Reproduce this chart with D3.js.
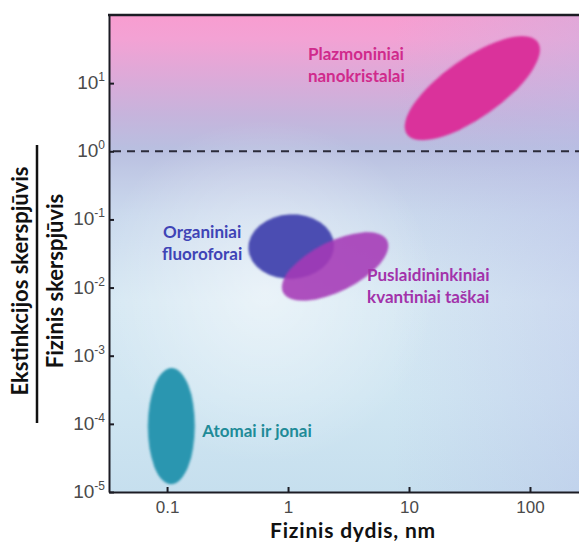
<!DOCTYPE html>
<html>
<head>
<meta charset="utf-8">
<script src="https://cdn.jsdelivr.net/npm/d3@7"></script>
<style>
  html, body { margin: 0; padding: 0; background: #fff; }
  svg { display: block; }
</style>
</head>
<body>
<svg id="chart" width="579" height="542"></svg>
<script>
// Duomenys (log skalės)
const xTickValues = [0.1, 1, 10, 100];
const yExponents = [1, 0, -1, -2, -3, -4, -5];
const thresholdValue = 1;

const regionNames = ["Plazmoniniai nanokristalai", "Organiniai fluoroforai", "Puslaidininkiniai kvantiniai taškai", "Atomai ir jonai"];
// pagrindinės ašies galai: dydis (nm) ir santykis
const regionSizeFrom = [9.6, 0.47, 0.91, 0.108];
const regionSizeTo = [116, 2.4, 6.6, 0.109];
const regionRatioFrom = [1.78, 0.037, 0.0085, 1.3e-5];
const regionRatioTo = [40, 0.043, 0.049, 6.6e-4];
const regionAspect = [0.37, 0.75, 0.43, 0.405];

const labelLines = [["Plazmoniniai", "nanokristalai"], ["Organiniai", "fluoroforai"], ["Puslaidininkiniai", "kvantiniai taškai"], ["Atomai ir jonai"]];

// stiliai / anotacijų vietos
const fillColors = ["#da339b", "#4b4db2", "#a53ab6", "#2a96b0"];
const fillOpacity = [1, 1, 0.88, 1];
const textColors = ["#d02a8c", "#3f44b6", "#a232aa", "#1f8b98"];
const labelAnchorX = [1.46, 0.195, 4.5, 0.195];
const labelAnchorY = [22, 0.054, 0.0125, 6.5e-5];
const labelAlign = ["start", "middle", "start", "start"];

const svg = d3.select("#chart");
const plot = { left: 109, top: 15, right: 582, bottom: 492 };

const x = d3.scaleLog().domain([Math.pow(10, -1.48), Math.pow(10, 2.43)]).range([plot.left, plot.right]);
const y = d3.scaleLog().domain([1e-5, 1e2]).range([plot.bottom, plot.top]);

const defs = svg.append("defs");

// fonas
const bg = defs.append("linearGradient").attr("id", "bgV").attr("x1", 0).attr("y1", 0).attr("x2", 0).attr("y2", 1);
[["0", "#f89dd0"], ["0.05", "#f3a2d4"], ["0.14", "#daabd9"], ["0.21", "#c6b4dc"], ["0.28", "#b9bfe0"],
 ["0.35", "#c3cde7"], ["0.42", "#cad9ed"], ["0.6", "#d6e8f3"], ["0.8", "#d0e6f2"], ["1", "#c6dfee"]].forEach(s => {
  bg.append("stop").attr("offset", s[0]).attr("stop-color", s[1]);
});
const glow = defs.append("radialGradient").attr("id", "glow").attr("cx", 0.33).attr("cy", 0.58).attr("r", 0.36);
glow.append("stop").attr("offset", 0).attr("stop-color", "#ffffff").attr("stop-opacity", 0.5);
glow.append("stop").attr("offset", 1).attr("stop-color", "#ffffff").attr("stop-opacity", 0);
const tint = defs.append("linearGradient").attr("id", "tint").attr("x1", 0).attr("y1", 0).attr("x2", 1).attr("y2", 0);
tint.append("stop").attr("offset", 0.6).attr("stop-color", "#b8bce8").attr("stop-opacity", 0);
tint.append("stop").attr("offset", 1).attr("stop-color", "#b8bce8").attr("stop-opacity", 0.35);

defs.append("filter").attr("id", "soft").append("feGaussianBlur").attr("stdDeviation", 0.9);

const pw = plot.right - plot.left, ph = plot.bottom - plot.top;
svg.append("rect").attr("x", plot.left).attr("y", plot.top).attr("width", pw).attr("height", ph).attr("fill", "url(#bgV)");
svg.append("rect").attr("x", plot.left).attr("y", plot.top).attr("width", pw).attr("height", ph).attr("fill", "url(#tint)");
svg.append("rect").attr("x", plot.left).attr("y", plot.top).attr("width", pw).attr("height", ph).attr("fill", "url(#glow)");

// sritys
const regions = regionNames.map((name, i) => ({
  name,
  x1: x(regionSizeFrom[i]), y1: y(regionRatioFrom[i]),
  x2: x(regionSizeTo[i]), y2: y(regionRatioTo[i]),
  aspect: regionAspect[i], i
}));

svg.append("g")
  .selectAll("ellipse")
  .data(regions)
  .join("ellipse")
  .attr("transform", d => {
    const cx = (d.x1 + d.x2) / 2, cy = (d.y1 + d.y2) / 2;
    const ang = Math.atan2(d.y2 - d.y1, d.x2 - d.x1) * 180 / Math.PI;
    return `translate(${cx},${cy}) rotate(${ang})`;
  })
  .attr("rx", d => Math.hypot(d.x2 - d.x1, d.y2 - d.y1) / 2)
  .attr("ry", d => Math.hypot(d.x2 - d.x1, d.y2 - d.y1) / 2 * d.aspect)
  .attr("fill", d => fillColors[d.i])
  .attr("fill-opacity", d => fillOpacity[d.i])
  .attr("filter", "url(#soft)");

// riba ties 10^0
svg.append("line")
  .attr("x1", plot.left + 4).attr("x2", plot.right)
  .attr("y1", y(thresholdValue)).attr("y2", y(thresholdValue))
  .attr("stroke", "#2b2b3a").attr("stroke-width", 2).attr("stroke-dasharray", "8,6");

// ašys
const xAxis = g => g
  .attr("transform", `translate(0,${plot.bottom})`)
  .call(d3.axisBottom(x).tickValues(xTickValues).tickSize(-5).tickSizeOuter(0).tickPadding(9).tickFormat(d => String(d)))
  .call(g => g.select(".domain").attr("stroke", "#1c1c24").attr("stroke-width", 2))
  .call(g => g.selectAll(".tick line").attr("stroke", "#1c1c24").attr("stroke-width", 2))
  .call(g => g.selectAll(".tick text").attr("fill", "#4a4a4a").attr("font-size", 17).attr("font-family", "Liberation Sans, Arial, sans-serif"));

const yAxis = g => g
  .attr("transform", `translate(${plot.left},0)`)
  .call(d3.axisLeft(y).tickValues(yExponents.map(e => Math.pow(10, e))).tickSize(-5).tickSizeOuter(0).tickFormat(""))
  .call(g => g.select(".domain").attr("stroke", "#1c1c24").attr("stroke-width", 2))
  .call(g => g.selectAll(".tick line").attr("stroke", "#1c1c24").attr("stroke-width", 2));

svg.append("g").call(xAxis);
svg.append("g").call(yAxis);

// viršutinis rėmas
svg.append("line")
  .attr("x1", plot.left - 1).attr("x2", plot.right)
  .attr("y1", y(1e2)).attr("y2", y(1e2))
  .attr("stroke", "#1c1c24").attr("stroke-width", 2.5);

// y žymų tekstai 10^n
const yLab = svg.append("g")
  .attr("font-family", "Liberation Sans, Arial, sans-serif")
  .attr("fill", "#4a4a4a")
  .selectAll("text")
  .data(yExponents)
  .join("text")
  .attr("x", plot.left - 4)
  .attr("y", e => y(Math.pow(10, e)) + 6)
  .attr("text-anchor", "end");
yLab.append("tspan").attr("font-size", 19).text("10");
yLab.append("tspan").attr("font-size", 12).attr("dy", -8).text(e => e === 0 ? "0" : (e > 0 ? String(e) : "-" + Math.abs(e)));

// sričių pavadinimai
const lab = svg.append("g")
  .attr("font-family", "Lato, Open Sans, sans-serif")
  .attr("font-weight", "bold")
  .attr("font-size", 17)
  .selectAll("text")
  .data(regions)
  .join("text")
  .attr("x", d => x(labelAnchorX[d.i]))
  .attr("y", d => y(labelAnchorY[d.i]))
  .attr("text-anchor", d => labelAlign[d.i])
  .attr("fill", d => textColors[d.i]);
lab.selectAll("tspan")
  .data(d => labelLines[d.i].map((t, k) => ({ t, k, px: x(labelAnchorX[d.i]) })))
  .join("tspan")
  .attr("x", d => d.px)
  .attr("dy", d => d.k === 0 ? 0 : 22)
  .text(d => d.t);

// ašių pavadinimai
svg.append("text")
  .attr("x", 353).attr("y", 538)
  .attr("text-anchor", "middle")
  .attr("font-family", "Lato, Open Sans, sans-serif")
  .attr("font-weight", "bold")
  .attr("font-size", 21)
  .attr("letter-spacing", 0.8)
  .attr("fill", "#111")
  .text("Fizinis dydis, nm");

const yt = svg.append("g")
  .attr("font-family", "Lato, Open Sans, sans-serif")
  .attr("font-weight", "bold")
  .attr("font-size", 22)
  .attr("fill", "#111")
  .attr("text-anchor", "middle");
yt.append("text").attr("transform", "translate(28,281) rotate(-90)").text("Ekstinkcijos skerspjūvis");
yt.append("text").attr("transform", "translate(63,281) rotate(-90)").text("Fizinis skerspjūvis");
svg.append("line")
  .attr("x1", 37).attr("x2", 37).attr("y1", 145).attr("y2", 423)
  .attr("stroke", "#111").attr("stroke-width", 2.5);
</script>
</body>
</html>
